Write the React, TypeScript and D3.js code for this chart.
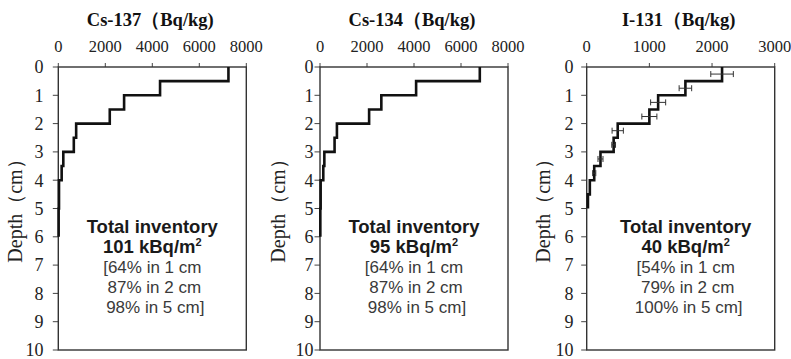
import React from 'react';
import * as d3 from 'd3';

// ---------- data ----------
const depthTicks = [0, 1, 2, 3, 4, 5, 6, 7, 8, 9, 10];

const csLayerTops = [0, 0.5, 1, 1.5, 2, 2.5, 3, 3.5, 4, 5];
const csLayerBottoms = [0.5, 1, 1.5, 2, 2.5, 3, 3.5, 4, 5, 6];
const cs137Values = [7240, 4330, 2800, 2190, 760, 660, 213, 143, 30, 15];
const cs134Values = [6800, 4090, 2610, 2090, 720, 620, 185, 140, 28, 14];

const iLayerTops = [0, 0.5, 1, 1.5, 2, 2.5, 3, 3.5, 4, 4.5];
const iLayerBottoms = [0.5, 1, 1.5, 2, 2.5, 3, 3.5, 4, 4.5, 5];
const i131Values = [2160, 1575, 1140, 1000, 495, 430, 220, 120, 50, 20];
const i131Errors = [180, 100, 120, 120, 90, 30, 40, 25, 0, 0];

const csTicks = [0, 2000, 4000, 6000, 8000];
const iTicks = [0, 1000, 2000, 3000];

const titles = ['Cs-137（Bq/kg)', 'Cs-134（Bq/kg)', 'I-131（Bq/kg)'];
const totalValues = ['101', '95', '40'];
const pct1cm = ['[64% in 1 cm', '[64% in 1 cm', '[54% in 1 cm'];
const pct2cm = ['87% in 2 cm', '87% in 2 cm', '79% in 2 cm'];
const pct5cm = ['98% in 5 cm]', '98% in 5 cm]', '100% in 5 cm]'];

// ---------- layout ----------
const TOP = 67;
const BOTTOM = 350;
const PLOT_W = 188;

const panels = [
  { left: 58.3, xMax: 8000, ticks: csTicks, tops: csLayerTops, bottoms: csLayerBottoms, values: cs137Values, errors: null as number[] | null, labelRight: 43.5, depthX: 15, textDx: 0 },
  { left: 320, xMax: 8000, ticks: csTicks, tops: csLayerTops, bottoms: csLayerBottoms, values: cs134Values, errors: null as number[] | null, labelRight: 313.5, depthX: 277.5, textDx: 0 },
  { left: 586.7, xMax: 3000, ticks: iTicks, tops: iLayerTops, bottoms: iLayerBottoms, values: i131Values, errors: i131Errors, labelRight: 573.5, depthX: 543, textDx: 5 },
];

const serif = '"Liberation Serif", "Times New Roman", "DejaVu Serif", serif';
const sans = '"Liberation Sans", Arial, Helvetica, sans-serif';

function Panel({ p, i }: { p: typeof panels[number]; i: number }) {
  const x = d3.scaleLinear().domain([0, p.xMax]).range([p.left, p.left + PLOT_W]);
  const y = d3.scaleLinear().domain([0, 10]).range([TOP, BOTTOM]);
  const pts: [number, number][] = [];
  p.values.forEach((v, k) => {
    pts.push([x(v), y(p.tops[k])]);
    pts.push([x(v), y(p.bottoms[k])]);
  });
  const line = d3.line<[number, number]>().x((d) => d[0]).y((d) => d[1]);
  const cx = p.left + PLOT_W / 2;
  const tx = cx + p.textDx;
  return (
    <g>
      {/* title */}
      <text x={cx - 2} y={26} textAnchor="middle" fontFamily={serif} fontWeight="bold" fontSize={18.5} fill="#111">
        {titles[i]}
      </text>
      {/* top tick labels */}
      {p.ticks.map((t) => (
        <text key={t} x={x(t)} y={52} textAnchor="middle" fontFamily={serif} fontSize={16.5} fill="#222">
          {t}
        </text>
      ))}
      {/* top ticks */}
      {p.ticks.map((t) => (
        <line key={'tt' + t} x1={x(t)} x2={x(t)} y1={TOP} y2={TOP - 4} stroke="#444" strokeWidth={1} />
      ))}
      {/* left ticks + labels */}
      {depthTicks.map((d) => (
        <g key={'d' + d}>
          <line x1={p.left - 5.5} x2={p.left} y1={y(d)} y2={y(d)} stroke="#444" strokeWidth={1} />
          <text x={p.labelRight} y={y(d)} dy="0.35em" textAnchor="end" fontFamily={serif} fontSize={18} fill="#222">
            {d}
          </text>
        </g>
      ))}
      {/* frame */}
      <rect x={p.left} y={TOP} width={PLOT_W} height={BOTTOM - TOP} fill="none" stroke="#333" strokeWidth={1.4} />
      {/* depth label */}
      <text transform={`translate(${p.depthX + 7},206) rotate(-90)`} textAnchor="middle" fontFamily={serif} fontSize={20} fill="#222">
        Depth（cm）
      </text>
      {/* step profile */}
      <path d={line(pts) || ''} fill="none" stroke="#111" strokeWidth={2.6} strokeLinejoin="miter" />
      {/* error bars */}
      {p.errors &&
        p.values.map((v, k) => {
          const e = p.errors![k];
          if (!e) return null;
          const ym = y((p.tops[k] + p.bottoms[k]) / 2);
          return (
            <g key={'e' + k} stroke="#333" strokeWidth={1}>
              <line x1={x(v - e)} x2={x(v + e)} y1={ym} y2={ym} />
              <line x1={x(v - e)} x2={x(v - e)} y1={ym - 3} y2={ym + 3} />
              <line x1={x(v + e)} x2={x(v + e)} y1={ym - 3} y2={ym + 3} />
            </g>
          );
        })}
      {/* inventory text */}
      <text x={tx} y={233} textAnchor="middle" fontFamily={sans} fontWeight="bold" fontSize={18.5} fill="#1a1a1a">
        Total inventory
      </text>
      <text x={tx} y={253} textAnchor="middle" fontFamily={sans} fontWeight="bold" fontSize={18.5} fill="#1a1a1a">
        {totalValues[i]} kBq/m
        <tspan fontSize={11} dy={-7}>2</tspan>
      </text>
      <text x={tx} y={273} textAnchor="middle" fontFamily={sans} fontSize={17} fill="#3a3a3a">
        {pct1cm[i]}
      </text>
      <text x={tx + 2} y={293} textAnchor="middle" fontFamily={sans} fontSize={17} fill="#3a3a3a">
        {pct2cm[i]}
      </text>
      <text x={tx + 3} y={313} textAnchor="middle" fontFamily={sans} fontSize={17} fill="#3a3a3a">
        {pct5cm[i]}
      </text>
    </g>
  );
}

export default function App() {
  return (
    <svg width={791} height={359} style={{ position: 'absolute', left: 0, top: 0, background: '#fff' }}>
      <rect x={0} y={0} width={791} height={359} fill="#fff" />
      {panels.map((p, i) => (
        <Panel key={i} p={p} i={i} />
      ))}
    </svg>
  );
}
